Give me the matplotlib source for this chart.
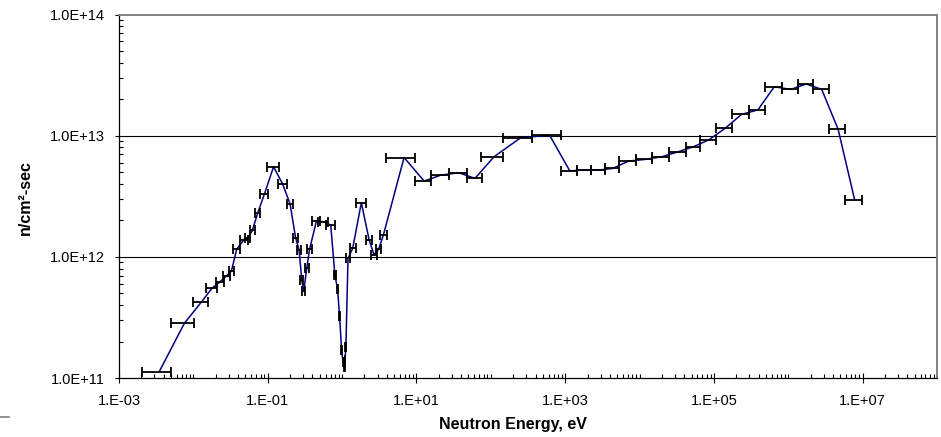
import numpy as np
import matplotlib
matplotlib.use("Agg")
import matplotlib.pyplot as plt
from matplotlib.lines import Line2D
from matplotlib.ticker import FixedLocator, FuncFormatter, NullFormatter

# ---- data: energy group bounds (eV) and flux (n/cm^2-sec) ----
e_lo = [2.02e-3, 4.99e-3, 9.94e-3, 1.50e-2, 2.00e-2, 2.51e-2, 3.00e-2, 3.44e-2,
        4.21e-2, 4.91e-2, 5.73e-2, 6.69e-2, 7.93e-2, 0.0979, 0.1375, 0.1816,
        0.2186, 0.2505, 0.275, 0.290, 0.314, 0.337, 0.393, 0.473, 0.614,
        0.78, 0.85, 0.91, 0.97, 1.015, 1.05, 1.08, 1.11,
        1.14, 1.261, 1.517, 2.068, 2.414, 2.817, 3.19, 3.92,
        9.70, 15.7, 27.1, 47.3, 73.9, 147.0, 357.0,
        876.0, 1426.0, 2213.0, 3443.0, 5309.0, 8893.0, 1.486e4, 2.49e4,
        4.17e4, 6.43e4, 1.06e5, 1.76e5, 2.95e5, 4.84e5, 8.11e5, 1.355e6,
        2.13e6, 3.50e6, 5.86e6]
e_hi = [4.94e-3, 1.016e-2, 1.55e-2, 2.05e-2, 2.56e-2, 3.09e-2, 3.50e-2, 4.21e-2,
        5.39e-2, 5.82e-2, 6.69e-2, 7.98e-2, 0.101, 0.1418, 0.1816, 0.2186,
        0.2551, 0.2773, 0.300, 0.320, 0.355, 0.393, 0.510, 0.645, 0.793,
        0.82, 0.89, 0.94, 1.00, 1.045, 1.08, 1.11, 1.14,
        1.261, 1.517, 2.113, 2.54, 2.97, 3.36, 3.99, 9.70,
        15.7, 27.1, 47.3, 75.2, 147.0, 357.0, 876.0,
        1426.0, 2213.0, 3443.0, 5309.0, 8893.0, 1.486e4, 2.49e4, 4.17e4,
        6.43e4, 1.074e5, 1.76e5, 2.95e5, 4.84e5, 8.11e5, 1.355e6, 2.13e6,
        3.50e6, 5.86e6, 9.79e6]
flux = [1.13e11, 2.83e11, 4.21e11, 5.50e11, 6.23e11, 6.98e11, 7.64e11, 1.155e12,
        1.39e12, 1.43e12, 1.65e12, 2.30e12, 3.29e12, 5.54e12, 3.96e12, 2.72e12,
        1.44e12, 1.14e12, 6.4e11, 5.2e11, 8.04e11, 1.153e12, 1.97e12, 1.95e12, 1.83e12,
        7.1e11, 5.4e11, 3.25e11, 1.70e11, 1.36e11, 1.23e11, 1.41e11, 1.80e11,
        9.7e11, 1.175e12, 2.80e12, 1.39e12, 1.035e12, 1.153e12, 1.51e12, 6.60e12,
        4.22e12, 4.73e12, 4.94e12, 4.44e12, 6.70e12, 9.61e12, 1.01e13,
        5.13e12, 5.20e12, 5.20e12, 5.37e12, 6.17e12, 6.37e12, 6.70e12, 7.37e12,
        8.10e12, 9.25e12, 1.148e13, 1.50e13, 1.63e13, 2.53e13, 2.41e13, 2.67e13,
        2.41e13, 1.13e13, 2.94e12]

x_major = [1e-3, 1e-1, 1e1, 1e3, 1e5, 1e7]
y_major = [1e11, 1e12, 1e13, 1e14]

e_lo = np.array(e_lo); e_hi = np.array(e_hi); flux = np.array(flux)
e_mid = (e_lo + e_hi) / 2.0
e_err = (e_hi - e_lo) / 2.0

W, H = 941, 437
fig = plt.figure(figsize=(W / 100, H / 100), dpi=100)
plt.rcParams['font.family'] = ['Liberation Sans', 'DejaVu Sans']

L, R, T, B = 119, 937, 14.5, 378
ax = fig.add_axes([L / W, (H - B) / H, (R - L) / W, (B - T) / H])
ax.set_xscale('log')
ax.set_yscale('log')
ax.set_xlim(1e-3, 1e8)
ax.set_ylim(1e11, 1e14)

for yv in [1e12, 1e13]:
    ax.axhline(yv, color='black', lw=0.8, zorder=1)

ax.plot(e_mid, flux, color='#000080', lw=1.1, zorder=2)
ax.errorbar(e_mid, flux, xerr=e_err, fmt='none', ecolor='black',
            elinewidth=1.3, capsize=3.6, capthick=1.3, zorder=3)

# ticks
ax.xaxis.set_major_locator(FixedLocator(x_major))
minor_x = []
for k in range(-3, 8):
    for m in range(1, 10):
        v = m * 10.0 ** k
        if v in x_major or v > 1e8:
            continue
        minor_x.append(v)
ax.xaxis.set_minor_locator(FixedLocator(minor_x))
ax.xaxis.set_minor_formatter(NullFormatter())
ax.xaxis.set_major_formatter(FuncFormatter(lambda v, p: "1.E%+03d" % int(round(np.log10(v)))))

ax.yaxis.set_major_locator(FixedLocator(y_major))
minor_y = [m * 10.0 ** k for k in range(11, 14) for m in range(2, 10)]
ax.yaxis.set_minor_locator(FixedLocator(minor_y))
ax.yaxis.set_minor_formatter(NullFormatter())
ax.yaxis.set_major_formatter(FuncFormatter(lambda v, p: "1.0E%+03d" % int(round(np.log10(v)))))

ax.tick_params(axis='x', which='major', direction='inout', length=7, width=0.8, pad=8, labelsize=10.5)
ax.tick_params(axis='x', which='minor', direction='in', length=3, width=0.8)
ax.tick_params(axis='y', which='major', direction='out', length=3, width=0.8, pad=7, labelsize=10.5)
ax.tick_params(axis='y', which='minor', direction='in', length=3, width=0.8)

for s in ['left', 'bottom']:
    ax.spines[s].set_color('black')
    ax.spines[s].set_linewidth(0.9)
for s in ['top', 'right']:
    ax.spines[s].set_color('#808080')
    ax.spines[s].set_linewidth(1.4)

fig.text(513 / W, 1 - 424 / H, 'Neutron Energy, eV', fontsize=11.5, fontweight='bold',
         ha='center', va='center')
fig.text(25 / W, 1 - 198 / H, 'n/cm\u00b2-sec', fontsize=11.5, fontweight='bold',
         ha='center', va='center', rotation=90)

# small grey dash at bottom-left corner
fig.add_artist(Line2D([0, 9 / W], [1 - 417 / H, 1 - 417 / H], transform=fig.transFigure,
                      color='#808080', lw=1.2))

fig.savefig('out.png', dpi=100)
